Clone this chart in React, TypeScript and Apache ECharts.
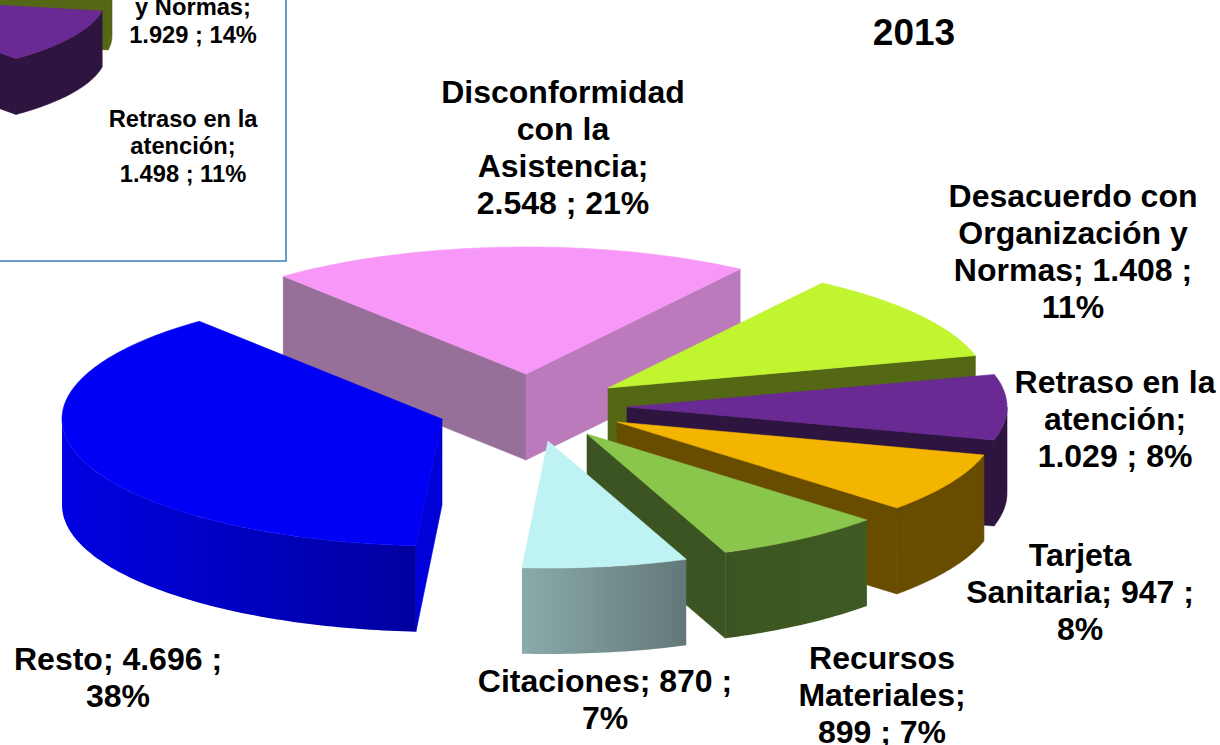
import React, { useEffect, useRef } from "react";
import * as echarts from "echarts";

// ---------- data ----------
const titleText = "2013";
const sliceNames = [
  "Disconformidad con la Asistencia",
  "Desacuerdo con Organización y Normas",
  "Retraso en la atención",
  "Tarjeta Sanitaria",
  "Recursos Materiales",
  "Citaciones",
  "Resto",
];
const sliceValues = [2548, 1408, 1029, 947, 899, 870, 4696];
const sliceLabels = [
  "Disconformidad\ncon la\nAsistencia;\n2.548 ; 21%",
  "Desacuerdo con\nOrganización y\nNormas; 1.408 ;\n11%",
  "Retraso en la\natención;\n1.029 ; 8%",
  "Tarjeta\nSanitaria; 947 ;\n8%",
  "Recursos\nMateriales;\n899 ; 7%",
  "Citaciones; 870 ;\n7%",
  "Resto; 4.696 ;\n38%",
];
const insetNames = ["Desacuerdo con Organización y Normas", "Retraso en la atención"];
const insetValues = [1929, 1498];
const insetLabels = ["y Normas;\n1.929 ; 14%", "Retraso en la\natención;\n1.498 ; 11%"];
const insetTotal = 13650;

// ---------- layout and styling ----------
const mainPie = { rx: 380, ry: 127, depth: 86, start: -39.7 };
const insetPie = { rx: 258, ry: 81, depth: 56, start: 49 };
const sliceApex = [
  [526, 374],
  [608, 388],
  [627, 407],
  [617, 422],
  [587, 434],
  [548, 441],
  [442, 419],
];
const insetApex = [
  [-146, -20],
  [-152, -3],
];
const sliceTop = ["#F797F7", "#C0F52F", "#6A2A93", "#F3B500", "#8AC64C", "#BFF2F2", "#0000F5"];
const sliceStartWall = ["#977099", "#546714", "#2D1540", "#684C00", "#3C5421", "#8BABAB", "#0000D8"];
const sliceEndWall = ["#BB7ABB", "#546714", "#2D1540", "#684C00", "#3C5421", "#8BABAB", "#0000D8"];
const sliceOuter = [
  ["#BB7ABB", "#BB7ABB"],
  ["#546714", "#546714"],
  ["#2D1540", "#2D1540"],
  ["#684C00", "#684C00"],
  ["#3C5421", "#3F5B24"],
  ["#8BABAB", "#627778"],
  ["#0000E2", "#00009F"],
];
const insetTop = ["#C0F52F", "#6A2A93"];
const insetWall = ["#546714", "#2D1540"];
const labelPlace = [
  [563, 147],
  [1073, 251],
  [1115, 419],
  [1080, 592],
  [882, 695],
  [605, 699],
  [118, 677],
];
const insetLabelPlace = [
  [193, 21],
  [183, 146],
];
const FONT = '"Liberation Sans", Arial, sans-serif';

const rad = (d: number) => (d * Math.PI) / 180;

function sliceShapes(
  apex: number[],
  a0: number,
  a1: number,
  pie: { rx: number; ry: number; depth: number },
  top: string,
  startWall: string,
  endWall: string,
  outer: string[]
) {
  const [ax, ay] = apex;
  const at = (t: number, h = 0) => [ax + pie.rx * Math.sin(rad(t)), ay - pie.ry * Math.cos(rad(t)) + h];
  const arc = (from: number, to: number, h = 0) => {
    const out: number[][] = [];
    const n = Math.max(2, Math.ceil(Math.abs(to - from)));
    for (let i = 0; i <= n; i++) out.push(at(from + ((to - from) * i) / n, h));
    return out;
  };
  const poly = (points: number[][], fill: any) => ({
    type: "polygon",
    silent: true,
    shape: { points },
    style: { fill, stroke: typeof fill === "string" ? fill : "none", lineWidth: 0.6 },
  });
  const mid = (a0 + a1) / 2;
  const mx = Math.sin(rad(mid));
  const my = -(pie.ry / pie.rx) * Math.cos(rad(mid));
  const cutVisible = (t: number) => {
    const dx = Math.sin(rad(t));
    const dy = -(pie.ry / pie.rx) * Math.cos(rad(t));
    return dx * (dx * my - dy * mx) < 0;
  };
  const cut = (t: number, fill: string) => {
    const e = at(t);
    const b = at(t, pie.depth);
    return poly([[ax, ay], e, b, [ax, ay + pie.depth]], fill);
  };
  const children: any[] = [];
  if (cutVisible(a0)) children.push(cut(a0, startWall));
  if (cutVisible(a1)) children.push(cut(a1, endWall));
  const w0 = Math.max(a0, 90);
  const w1 = Math.min(a1, 270);
  if (w1 > w0) {
    const fill =
      outer[0] === outer[1]
        ? outer[0]
        : {
            type: "linear",
            x: 0,
            y: 0,
            x2: 1,
            y2: 0,
            colorStops: [
              { offset: 0, color: outer[0] },
              { offset: 1, color: outer[1] },
            ],
          };
    children.push(poly([...arc(w0, w1), ...arc(w1, w0, pie.depth)], fill));
  }
  children.push(poly([[ax, ay], ...arc(a0, a1)], top));
  return children;
}

function buildOption() {
  const total = sliceValues.reduce((s, v) => s + v, 0);
  const angle = (values: number[], sum: number, start: number, i: number) => {
    let a = start;
    for (let k = 0; k < i; k++) a += (values[k] / sum) * 360;
    return [a, a + (values[i] / sum) * 360];
  };
  const textEl = (text: string, place: number[], fontSize: number, lineHeight: number) => ({
    type: "text",
    x: place[0],
    y: place[1],
    z: 100,
    silent: true,
    style: {
      text,
      fontFamily: FONT,
      fontWeight: "bold",
      fontSize,
      lineHeight,
      fill: "#000",
      align: "center",
      verticalAlign: "middle",
    },
  });
  return {
    animation: false,
    backgroundColor: "#ffffff",
    title: {
      text: titleText,
      left: 909,
      top: 9,
      textAlign: "center",
      textStyle: { fontFamily: FONT, fontWeight: "bold", fontSize: 37, color: "#000" },
    },
    graphic: [
      {
        type: "rect",
        z: 0,
        silent: true,
        shape: { x: -10, y: -10, width: 296, height: 271 },
        style: { fill: "#fff", stroke: "#6C9BD0", lineWidth: 2 },
      },
      ...sliceLabels.map((t, i) => textEl(t, labelPlace[i], 32, 37)),
      ...insetLabels.map((t, i) => textEl(t, insetLabelPlace[i], 23.7, 27.5)),
    ],
    series: [
      {
        type: "custom",
        name: "Principal",
        coordinateSystem: "none",
        silent: true,
        data: sliceValues.map((value, i) => ({ name: sliceNames[i], value })),
        renderItem: (params: any) => {
          const i = params.dataIndex;
          const [a0, a1] = angle(sliceValues, total, mainPie.start, i);
          return {
            type: "group",
            children: sliceShapes(
              sliceApex[i],
              a0,
              a1,
              mainPie,
              sliceTop[i],
              sliceStartWall[i],
              sliceEndWall[i],
              sliceOuter[i]
            ),
          };
        },
      },
      {
        type: "custom",
        name: "Recuadro",
        coordinateSystem: "none",
        silent: true,
        data: insetValues.map((value, i) => ({ name: insetNames[i], value })),
        renderItem: (params: any) => {
          const i = params.dataIndex;
          const [a0, a1] = angle(insetValues, insetTotal, insetPie.start, i);
          return {
            type: "group",
            children: sliceShapes(insetApex[i], a0, a1, insetPie, insetTop[i], insetWall[i], insetWall[i], [
              insetWall[i],
              insetWall[i],
            ]),
          };
        },
      },
    ],
  };
}

export default function App() {
  const ref = useRef<HTMLDivElement>(null);
  useEffect(() => {
    const chart = echarts.init(ref.current!, undefined, { renderer: "svg" });
    chart.setOption(buildOption() as any);
    return () => chart.dispose();
  }, []);
  return <div ref={ref} style={{ position: "absolute", left: 0, top: 0, width: 1220, height: 745 }} />;
}
